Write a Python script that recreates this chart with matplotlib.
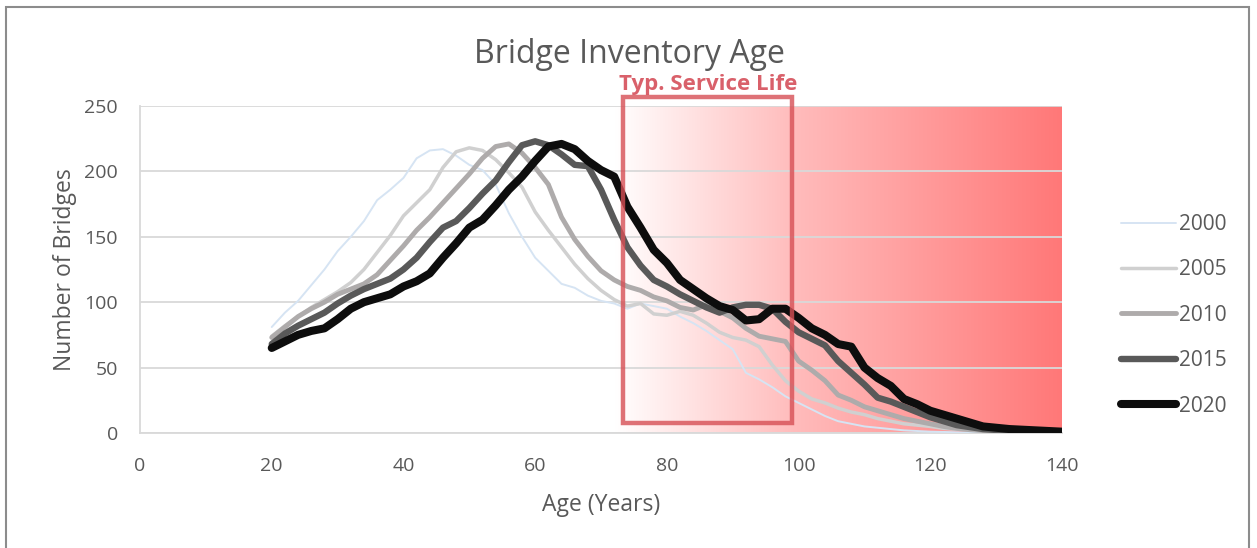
import numpy as np
import matplotlib.pyplot as plt
from matplotlib.patches import Rectangle
from matplotlib.colors import LinearSegmentedColormap

plt.rcParams['font.family'] = ['Open Sans', 'DejaVu Sans']

# Data (number of bridges per age, every 2 years)
age = list(range(20, 141, 2))

y2000 = [81, 92, 101, 113, 125, 139, 150, 162, 178, 186, 195, 210, 216, 217, 212, 205,
         201, 190, 168, 150, 134, 124, 114, 111, 105, 101, 99, 95, 99, 97, 95, 89,
         84, 78, 71, 64, 46, 41, 35, 28, 23, 18, 13, 9, 7, 5, 4, 3, 2, 1.5,
         1, 0.8, 0.5, 0.3, 0.2, 0.1, 0.1, 0, 0, 0, 0]
y2005 = [74, 82, 89, 96, 102, 108, 115, 125, 138, 151, 166, 176, 186, 203, 215, 218,
         216, 209, 199, 188, 169, 155, 142, 129, 118, 109, 102, 97, 99, 91, 90, 93,
         90, 84, 77, 73, 71, 66, 52, 40, 32, 26, 23, 19, 16, 14, 11, 9, 7, 6,
         5, 3.5, 2.8, 2.3, 1.9, 1.5, 1.2, 1, 0.8, 0.6, 0.5]
y2010 = [73, 81, 89, 95, 100, 106, 110, 114, 121, 132, 143, 155, 165, 176, 187, 198,
         210, 219, 221, 214, 203, 190, 165, 148, 135, 124, 117, 112, 109, 104, 101, 96,
         94, 98, 93, 88, 80, 74, 72, 70, 55, 48, 40, 29, 25, 20, 17, 14, 11, 9,
         7, 5, 3.5, 2.5, 1.8, 1.2, 0.8, 0.6, 0.4, 0.3, 0.2]
y2015 = [68, 76, 82, 87, 92, 99, 105, 110, 114, 118, 125, 134, 146, 157, 162, 172,
         183, 193, 207, 220, 223, 220, 213, 205, 204, 186, 163, 142, 128, 117, 112, 106,
         101, 96, 92, 96, 98, 98, 95, 85, 77, 72, 67, 55, 46, 37, 27, 24, 20, 16,
         12, 9, 6, 4.5, 3, 2.3, 1.5, 1, 0.7, 0.5, 0.3]
y2020 = [65, 70, 75, 78, 80, 87, 95, 100, 103, 106, 112, 116, 122, 134, 145, 157,
         163, 174, 186, 196, 208, 219, 221, 217, 208, 201, 196, 173, 157, 140, 130, 117,
         110, 103, 97, 94, 86, 87, 95, 95, 88, 80, 75, 68, 66, 50, 42, 36, 26, 22,
         17, 14, 11, 8, 5, 4, 3, 2.5, 2, 1.5, 1]

years = ['2000', '2005', '2010', '2015', '2020']
series = [y2000, y2005, y2010, y2015, y2020]
colors = ['#d6e4f3', '#d0d0d0', '#aeabab', '#595959', '#0d0d0d']
widths = [1.4, 2.5, 3.5, 4.6, 5.8]

fig = plt.figure(figsize=(12.57, 5.48), dpi=100)
ax = fig.add_axes([0.1114, 0.2099, 0.7335, 0.5967])

# red "past service life" gradient
cmap = LinearSegmentedColormap.from_list('wr', [(0, '#ffffff'), (0.4, '#ffbcbc'), (1, '#ff7878')])
grad = np.linspace(0, 1, 256).reshape(1, -1)
ax.imshow(grad, extent=[72, 140, 0, 250], aspect='auto', cmap=cmap, zorder=0, interpolation='bilinear')

for yr, vals, c, w in zip(years, series, colors, widths):
    ax.plot(age, vals, color=c, lw=w, label=yr, solid_capstyle='round', solid_joinstyle='round', zorder=3)

# typical service life box
box = Rectangle((73.4, 7.5), 25.6, 249.5, fill=False, edgecolor='#d64f55', lw=3.2, alpha=0.8,
                zorder=5, clip_on=False)
ax.add_patch(box)
ax.text(86.3, 258.5, 'Typ. Service Life', color='#d9606a', fontsize=16, fontweight='bold',
        ha='center', va='bottom')

ax.set_xlim(0, 140)
ax.set_ylim(0, 250)
ax.set_xticks(range(0, 141, 20))
ax.set_yticks(range(0, 251, 50))
ax.grid(axis='y', color='#d9d9d9', lw=1.3)
ax.tick_params(axis='x', length=0, labelsize=14, labelcolor='#595959', pad=17)
ax.tick_params(axis='y', length=0, labelsize=14, labelcolor='#595959', pad=16)
for s in ['top', 'right']:
    ax.spines[s].set_visible(False)
for s in ['left', 'bottom']:
    ax.spines[s].set_color('#d9d9d9')
    ax.spines[s].set_linewidth(1.3)

ax.set_xlabel('Age (Years)', fontsize=16.5, color='#595959', labelpad=13)
ax.set_ylabel('Number of Bridges', fontsize=16.5, color='#595959', labelpad=5)
fig.text(0.501, 0.9, 'Bridge Inventory Age', fontsize=23, color='#595959', ha='center', va='center')

leg = ax.legend(loc='center left', bbox_to_anchor=(1.044, 0.36), frameon=False, fontsize=15,
                labelcolor='#595959', handlelength=2.6, handletextpad=0.15, labelspacing=1.17)

# outer chart border
fig.add_artist(Rectangle((0.005, -0.05), 0.989, 1.037, transform=fig.transFigure, fill=False,
                         edgecolor='#8c8c8c', lw=1.5))

fig.savefig('out.png', dpi=100)
